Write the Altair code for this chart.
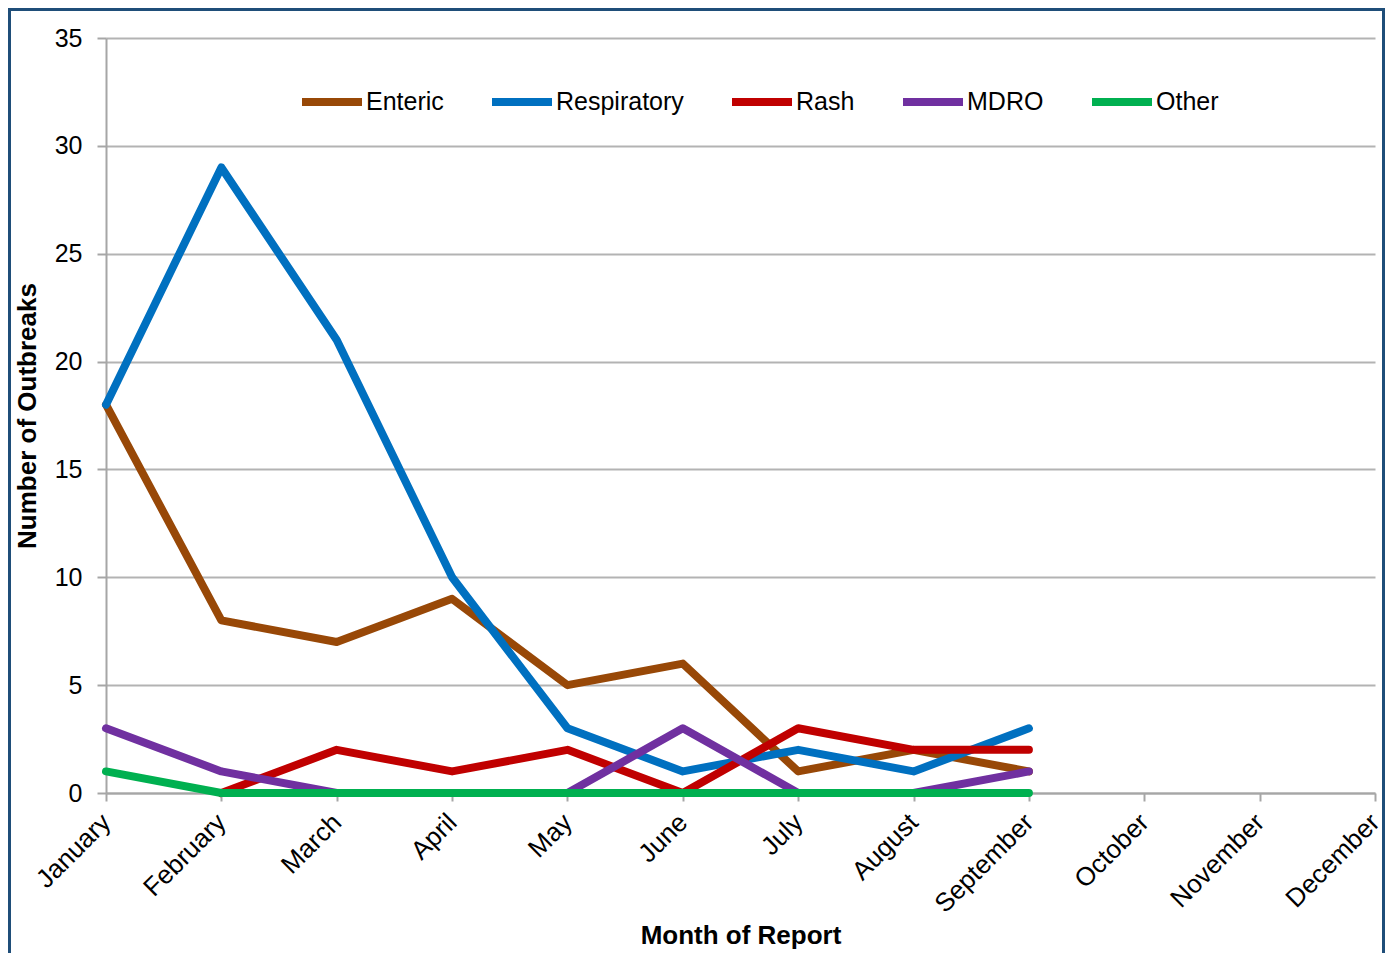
import altair as alt
import pandas as pd

months = ["January", "February", "March", "April", "May", "June", "July",
          "August", "September", "October", "November", "December"]
series_names = ["Enteric", "Respiratory", "Rash", "MDRO", "Other"]
series_colors = ["#984807", "#0070C0", "#C00000", "#7030A0", "#00B050"]

enteric = [18, 8, 7, 9, 5, 6, 1, 2, 1]
respiratory = [18, 29, 21, 10, 3, 1, 2, 1, 3]
rash = [None, 0, 2, 1, 2, 0, 3, 2, 2]
mdro = [3, 1, 0, 0, 0, 3, 0, 0, 1]
other = [1, 0, 0, 0, 0, 0, 0, 0, 0]

values = [enteric, respiratory, rash, mdro, other]
rows = []
for name, vals in zip(series_names, values):
    for m, v in zip(months, vals):
        if v is not None:
            rows.append({"Month": m, "Series": name, "Value": v})
df = pd.DataFrame(rows)

W, H = 1269, 755
FONT = "Liberation Sans"

color_scale = alt.Scale(domain=series_names, range=series_colors)

x_enc = alt.X("Month:N", sort=months, scale=alt.Scale(domain=months, type="point", padding=0),
              axis=alt.Axis(title="Month of Report", labelAngle=-45, labelAlign="right",
                            labelBaseline="middle", labelPadding=17, labelFontSize=26,
                            tickSize=8, titleY=142, titleBaseline="middle", grid=False))
y_enc = alt.Y("Value:Q", scale=alt.Scale(domain=[0, 35], nice=False),
              axis=alt.Axis(title="Number of Outbreaks", values=list(range(0, 36, 5)),
                            tickSize=9, labelPadding=15, titleX=-79, titleBaseline="middle",
                            grid=True))

layers = []
for i, name in enumerate(series_names):
    legend = alt.Legend(title=None, orient="none", legendX=192, legendY=30,
                        direction="horizontal", columns=5, symbolType="stroke",
                        symbolSize=3600, symbolStrokeWidth=8, labelFontSize=25,
                        labelFont=FONT, labelColor="#000000", columnPadding=32,
                        labelOffset=0) if i == 0 else alt.Legend(title=None)
    layers.append(
        alt.Chart(df).transform_filter(alt.datum.Series == name)
        .mark_line(strokeWidth=8, strokeCap="round", strokeJoin="round")
        .encode(x=x_enc, y=y_enc,
                color=alt.Color("Series:N", scale=color_scale, legend=legend))
    )

frame = alt.Chart(pd.DataFrame({"a": [0]})).mark_rect(
    filled=False, stroke="#1F4E79", strokeWidth=3
).encode(x=alt.value(-96.5), x2=alt.value(1277.5), y=alt.value(-28.5), y2=alt.value(1000))

chart = alt.layer(frame, *layers).properties(
    width=W, height=H,
    autosize=alt.AutoSizeParams(type="none"),
    padding={"left": 98, "top": 30, "right": 10, "bottom": 160},
).configure_view(stroke=None).configure_axis(
    labelFont=FONT, labelFontSize=25, labelColor="#000000",
    titleFont=FONT, titleFontSize=26, titleFontWeight="bold", titleColor="#000000",
    domainColor="#A6A6A6", domainWidth=2, tickColor="#A6A6A6", tickWidth=2,
    gridColor="#B3B3B3", gridWidth=2
).configure_legend(labelFont=FONT)

chart.save("out.html", embed_options={"renderer": "svg", "actions": False})
